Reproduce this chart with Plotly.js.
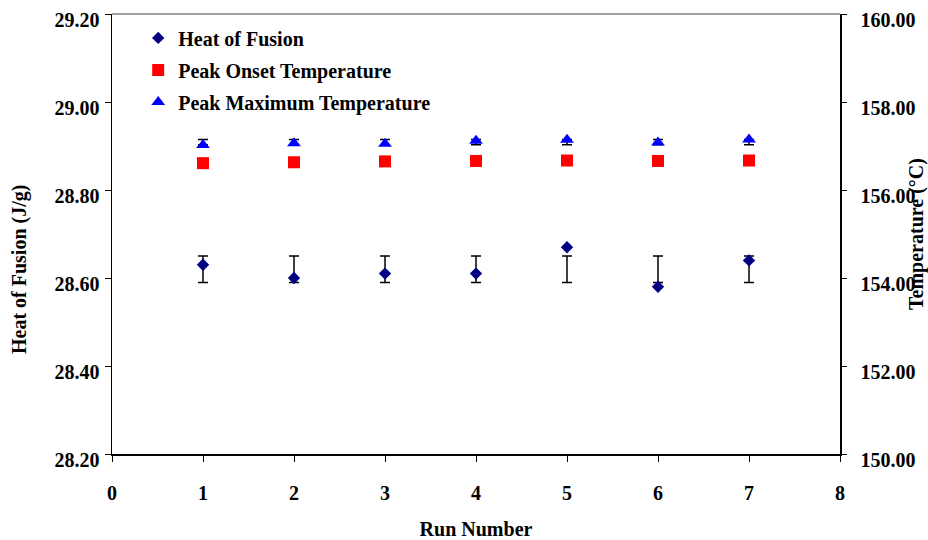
<!DOCTYPE html>
<html>
<head>
<meta charset="utf-8">
<script src="https://cdn.plot.ly/plotly-3.0.1.min.js"></script>
<style>html,body{margin:0;padding:0;background:#fff;}#chart{width:928px;height:540px;}</style>
</head>
<body>
<div id="chart"></div>
<script>
// ---- data ----
const runs = [1, 2, 3, 4, 5, 6, 7];
const heatOfFusion = [28.63, 28.60, 28.61, 28.61, 28.67, 28.58, 28.64];
const peakOnsetTemp = [156.61, 156.63, 156.65, 156.66, 156.67, 156.66, 156.67];
const peakMaxTemp = [157.02, 157.06, 157.05, 157.12, 157.14, 157.08, 157.15];
// error bars (mean +/- SD drawn at every run)
const heatMean = 28.62, heatSD = 0.03;
const peakMaxMean = 157.09, peakMaxSD = 0.06;
const xTicks = [0, 1, 2, 3, 4, 5, 6, 7, 8];
const yLeftTicks = [28.2, 28.4, 28.6, 28.8, 29.0, 29.2];
const yRightTicks = [150, 152, 154, 156, 158, 160];

const FONT = {family: 'Liberation Serif, Times New Roman, serif', size: 20, color: '#000', weight: 'bold'};

const errTrace = (center, sd, yaxis) => ({
  x: runs, y: runs.map(() => center), yaxis: yaxis, type: 'scatter', mode: 'markers',
  marker: {color: 'rgba(0,0,0,0)', size: 1}, showlegend: false, hoverinfo: 'skip',
  error_y: {type: 'constant', value: sd, color: '#000', thickness: 1.5, width: 5}
});

const data = [
  errTrace(heatMean, heatSD, 'y'),
  errTrace(peakMaxMean, peakMaxSD, 'y2'),
  {x: runs, y: heatOfFusion, name: 'Heat of Fusion', type: 'scatter', mode: 'markers', yaxis: 'y',
   legendgroup: 'a', marker: {symbol: 'diamond', color: '#000080', size: 9.5}},
  {x: runs, y: peakOnsetTemp, name: 'Peak Onset Temperature', type: 'scatter', mode: 'markers', yaxis: 'y2',
   legendgroup: 'b', marker: {symbol: 'square', color: '#FF0000', size: 12}},
  {x: runs, y: peakMaxTemp, name: 'Peak Maximum Temperature', type: 'scatter', mode: 'markers', yaxis: 'y2',
   legendgroup: 'c', marker: {symbol: 'triangle-up', color: '#0000FF', size: 12}}
];

const layout = {
  width: 928, height: 540,
  margin: {l: 112, r: 88, t: 14, b: 86, pad: 0},
  paper_bgcolor: '#fff', plot_bgcolor: '#fff',
  font: FONT,
  showlegend: true,
  legend: {x: 0.036, y: 0.99, xanchor: 'left', yanchor: 'top', bgcolor: 'rgba(0,0,0,0)',
           font: FONT, traceorder: 'grouped', tracegroupgap: 3, itemwidth: 30},
  xaxis: {range: [0, 8], tickvals: xTicks, ticktext: xTicks.map(String), showgrid: false, zeroline: false,
          showline: true, linecolor: '#000', linewidth: 1.5, ticks: 'outside', ticklen: 6, tickcolor: '#000',
          tickfont: FONT, ticklabelstandoff: 14,
          title: {text: 'Run Number', font: FONT, standoff: 33}},
  xaxis3: {range: [0, 8], overlaying: 'x', anchor: 'y', side: 'bottom', tickvals: xTicks, showticklabels: false,
           ticks: 'inside', ticklen: 6, tickcolor: '#000', showgrid: false, zeroline: false, showline: false},
  yaxis: {range: [28.2, 29.2], tickvals: yLeftTicks, tickformat: '.2f', showgrid: false, zeroline: false,
          showline: true, linecolor: '#000', linewidth: 1.5, ticks: 'outside', ticklen: 6, tickcolor: '#000',
          tickfont: FONT, ticklabelstandoff: 1, ticklabelshift: 6, ticklabeloverflow: 'allow', title: {text: ''}},
  yaxis3: {range: [28.2, 29.2], overlaying: 'y', anchor: 'x', side: 'left', tickvals: yLeftTicks, showticklabels: false,
           ticks: 'inside', ticklen: 4, tickcolor: '#000', showgrid: false, zeroline: false, showline: false},
  yaxis2: {range: [150, 160], tickvals: yRightTicks, tickformat: '.2f', overlaying: 'y', side: 'right', anchor: 'x',
           showgrid: false, zeroline: false, showline: true, linecolor: '#000', linewidth: 1.5,
           ticks: 'outside', ticklen: 5, tickcolor: '#000', tickfont: FONT, ticklabelstandoff: 10, ticklabelshift: 6,
           ticklabeloverflow: 'allow',
           title: {text: 'Temperature (°C)', font: FONT, standoff: 5}},
  yaxis4: {range: [150, 160], overlaying: 'y', anchor: 'x', side: 'right', tickvals: yRightTicks, showticklabels: false,
           ticks: 'inside', ticklen: 5, tickcolor: '#000', showgrid: false, zeroline: false, showline: false},
  shapes: [{type: 'line', xref: 'paper', yref: 'paper', x0: 0, x1: 1, y0: 1, y1: 1,
            line: {color: '#808080', width: 1.5}}],
  annotations: [{text: 'Heat of Fusion (J/g)', xref: 'paper', yref: 'paper', x: -0.128, y: 0.42,
                 xanchor: 'center', yanchor: 'middle', textangle: -90, showarrow: false, font: FONT}]
};

Plotly.newPlot('chart', data, layout, {displayModeBar: false, staticPlot: true});
</script>
</body>
</html>
